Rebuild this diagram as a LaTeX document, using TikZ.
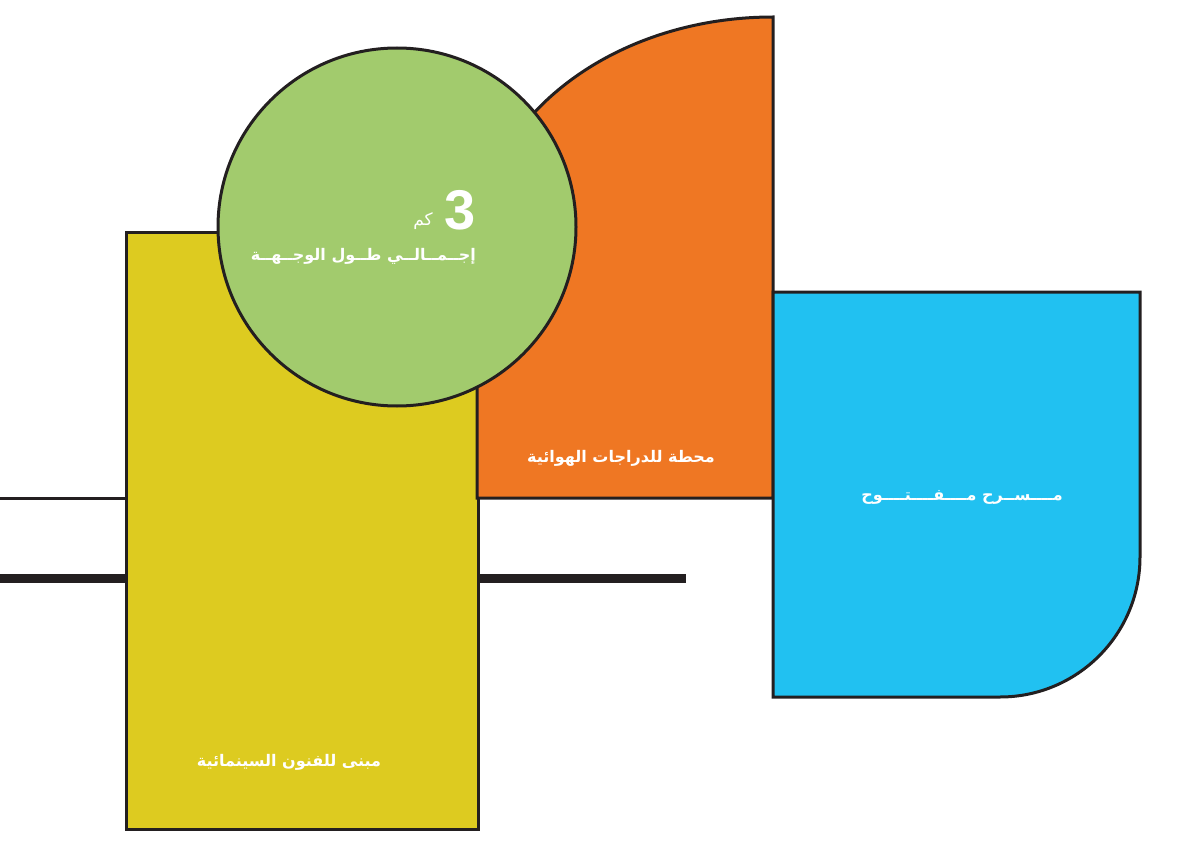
\documentclass[tikz,border=0pt]{standalone}
\usepackage{fontspec}
\TeXXeTstate=1
\newfontfamily\arabicfont[Script=Arabic]{DejaVu Sans}
\newfontfamily\numfont{Liberation Sans}
\definecolor{cyellow}{HTML}{DDCB20}
\definecolor{corange}{HTML}{EF7723}
\definecolor{cgreen}{HTML}{A2CB6D}
\definecolor{cblue}{HTML}{21C1F1}
\definecolor{cstroke}{HTML}{231F20}
\begin{document}
\begin{tikzpicture}[x=1pt,y=-1pt,
  shapeborder/.style={draw=cstroke, line width=3pt, line join=miter},
  lbl/.style={text=white, font=\arabicfont\bfseries\fontsize{16}{18}\selectfont, inner sep=0pt}]
\useasboundingbox (0,0) rectangle (1200,848);
% lines
\coordinate (tl0) at (0,498);
\coordinate (bl0) at (0,578);
\coordinate (bl1) at (686,578);
\draw[cstroke, line width=9pt] (bl0) -- (bl1);
% yellow building
\node[shapeborder, fill=cyellow, rectangle, anchor=north west, minimum width=352pt, minimum height=597pt, inner sep=0pt] (yellow) at (125,231) {};
\draw[cstroke, line width=3pt] (tl0) -- (yellow.west |- tl0);
% orange
\draw[shapeborder, fill=corange] (477,498) -- (477,251) arc[start angle=180, end angle=90, x radius=296pt, y radius=234pt] -- (773,498) -- cycle;
% green circle
\node[shapeborder, fill=cgreen, circle, minimum size=358pt, inner sep=0pt] (green) at (397,227) {};
% blue
\draw[shapeborder, fill=cblue] (773,292) -- (1140,292) -- (1140,557) arc[start angle=0, end angle=-90, radius=140pt] -- (773,697) -- cycle;
% texts
\node[text=white, font=\numfont\bfseries\fontsize{56}{56}\selectfont, inner sep=0pt, anchor=east] (num) at (476,210) {3};
\node[text=white, font=\arabicfont\fontsize{17}{19}\selectfont, inner sep=0pt, anchor=east] (km) at (433,221) {\beginR كم\endR};
\node[lbl, anchor=east] (total) at (476,256) {\beginR إجــمــالــي طــول الوجــهــة\endR};
\node[lbl] (bike) at (621,458) {\beginR محطة للدراجات الهوائية\endR};
\node[lbl] (theatre) at (962,497) {\beginR مــــســرح مــــفــــتــــوح\endR};
\node[lbl] (cinema) at (289,762) {\beginR مبنى للفنون السينمائية\endR};
\end{tikzpicture}
\end{document}
